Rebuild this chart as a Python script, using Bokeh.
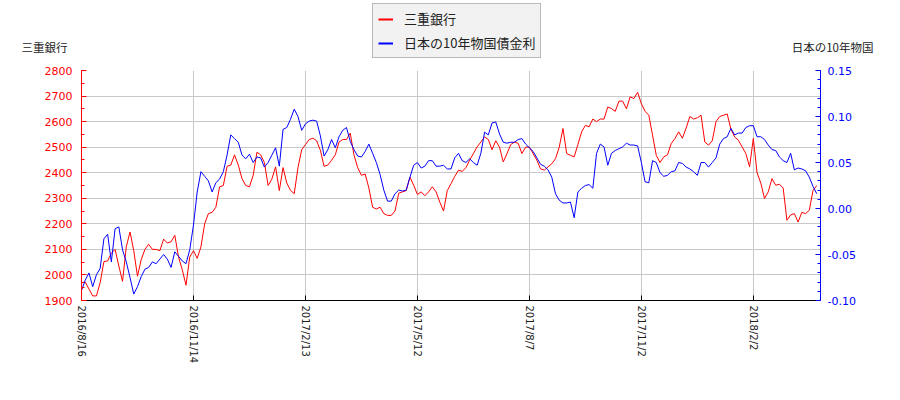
from bokeh.plotting import figure
from bokeh.layouts import column
from bokeh.models import (Range1d, LinearAxis, SingleIntervalTicker, FixedTicker,
                          NumeralTickFormatter, Legend, LegendItem)
from bokeh.core.properties import value
from bokeh.embed import file_html
from bokeh.resources import INLINE

# ---- data ----
tick_labels = ["2016/8/16", "2016/11/14", "2017/2/13", "2017/5/12",
               "2017/8/7", "2017/11/2", "2018/2/2"]
tick_index = [0, 60, 120, 180, 240, 300, 360]

# trading-day index (every second session)
day_index = list(range(0, 396, 2))

bank_price = [
    1970, 1972, 1945, 1918, 1918, 1970, 2052, 2055, 2085, 2100,
    2035, 1975, 2110, 2168, 2095, 1995, 2060, 2100, 2120, 2100,
    2100, 2095, 2140, 2125, 2130, 2155, 2070, 2020, 1960, 2070,
    2095, 2065, 2110, 2200, 2240, 2245, 2265, 2345, 2350, 2425,
    2430, 2470, 2430, 2377, 2350, 2345, 2390, 2480, 2470, 2440,
    2350, 2375, 2423, 2330, 2420, 2360, 2331, 2318, 2420, 2490,
    2510, 2530, 2535, 2525, 2488, 2425, 2430, 2449, 2470, 2520,
    2530, 2530, 2555, 2470, 2420, 2390, 2395, 2340, 2265, 2258,
    2265, 2240, 2233, 2233, 2250, 2320, 2325, 2330, 2383, 2351,
    2315, 2325, 2310, 2325, 2345, 2325, 2285, 2250, 2330, 2357,
    2385, 2410, 2405, 2420, 2449, 2475, 2501, 2520, 2540, 2530,
    2490, 2525, 2500, 2442, 2475, 2510, 2520, 2515, 2475, 2500,
    2500, 2475, 2449, 2415, 2410, 2423, 2435, 2455, 2500, 2573,
    2475, 2468, 2462, 2510, 2560, 2585, 2580, 2610, 2600, 2610,
    2610, 2657, 2651, 2640, 2680, 2680, 2650, 2697, 2690, 2715,
    2670, 2640, 2625, 2547, 2468, 2440, 2462, 2470, 2514, 2534,
    2560, 2535, 2575, 2620, 2610, 2615, 2625, 2520, 2508, 2525,
    2600, 2620, 2625, 2630, 2570, 2540, 2527, 2501, 2475, 2423,
    2534, 2400, 2360, 2299, 2325, 2377, 2351, 2355, 2340, 2214,
    2235, 2240, 2207, 2245, 2240, 2253, 2331, 2350,
]

jgb_yield = [
    -0.089, -0.078, -0.070, -0.085, -0.072, -0.065, -0.033, -0.028, -0.058, -0.022,
    -0.020, -0.045, -0.058, -0.075, -0.093, -0.085, -0.074, -0.066, -0.064, -0.058,
    -0.060, -0.055, -0.050, -0.055, -0.064, -0.047, -0.052, -0.057, -0.060, -0.045,
    -0.018, 0.018, 0.040, 0.035, 0.030, 0.018, 0.028, 0.032, 0.040, 0.058,
    0.080, 0.076, 0.072, 0.058, 0.054, 0.059, 0.050, 0.056, 0.055, 0.045,
    0.050, 0.058, 0.066, 0.046, 0.086, 0.088, 0.097, 0.108, 0.100, 0.085,
    0.092, 0.095, 0.096, 0.095, 0.079, 0.057, 0.064, 0.075, 0.066, 0.078,
    0.085, 0.088, 0.073, 0.064, 0.057, 0.056, 0.062, 0.070, 0.060, 0.050,
    0.037, 0.020, 0.008, 0.008, 0.016, 0.020, 0.019, 0.020, 0.034, 0.047,
    0.050, 0.044, 0.046, 0.052, 0.052, 0.046, 0.046, 0.047, 0.043, 0.043,
    0.055, 0.060, 0.052, 0.050, 0.054, 0.050, 0.047, 0.060, 0.083, 0.080,
    0.093, 0.094, 0.081, 0.072, 0.071, 0.072, 0.072, 0.075, 0.076, 0.070,
    0.066, 0.062, 0.055, 0.048, 0.046, 0.042, 0.034, 0.016, 0.009, 0.006,
    0.006, 0.007, -0.010, 0.018, 0.022, 0.025, 0.026, 0.022, 0.060, 0.070,
    0.067, 0.047, 0.060, 0.063, 0.065, 0.067, 0.071, 0.069, 0.069, 0.068,
    0.050, 0.029, 0.028, 0.052, 0.050, 0.039, 0.035, 0.036, 0.040, 0.041,
    0.050, 0.049, 0.045, 0.043, 0.040, 0.036, 0.050, 0.050, 0.045, 0.050,
    0.055, 0.070, 0.076, 0.078, 0.087, 0.080, 0.082, 0.082, 0.088, 0.090,
    0.090, 0.078, 0.078, 0.075, 0.069, 0.064, 0.063, 0.056, 0.052, 0.050,
    0.060, 0.042, 0.044, 0.043, 0.041, 0.034, 0.024, 0.016,
]

left_title = "三重銀行"
right_title = "日本の10年物国"
series_names = ["三重銀行", "日本の10年物国債金利"]

rate_major = [-0.10, -0.05, 0.00, 0.05, 0.10, 0.15]
rate_minor = [round(-0.10 + 0.01 * k, 2) for k in range(26)]

RED = "#ff0000"
BLUE = "#0000ff"
LATIN = "DejaVu Sans"
CJK = "Noto Sans CJK JP"
TEXT = "#222222"
NAN = float("nan")

# ---- header (legend + axis titles) ----
head = figure(width=900, height=60, output_backend="svg", toolbar_location=None,
              x_range=Range1d(0, 900), y_range=Range1d(0, 60),
              x_axis_location=None, y_axis_location=None,
              min_border=0, min_border_left=0, min_border_right=0,
              min_border_top=0, min_border_bottom=0)
head.outline_line_color = None
head.xgrid.visible = False
head.ygrid.visible = False

# legend proxies (draw nothing themselves)
h1 = head.line(x=[NAN], y=[NAN], line_color=RED, line_width=2)
h2 = head.line(x=[NAN], y=[NAN], line_color=BLUE, line_width=2)

head.text(x=[21], y=[14], text=[left_title], text_font=value(CJK),
          text_font_size="11.5px", text_baseline="middle", text_align="left",
          text_color=TEXT)
head.text(x=[873], y=[14], text=[right_title], text_font=value(CJK),
          text_font_size="11.5px", text_baseline="middle", text_align="right",
          text_color=TEXT)

legend = Legend(items=[LegendItem(label=series_names[0], renderers=[h1]),
                       LegendItem(label=series_names[1], renderers=[h2])],
                location=(372, 2), orientation="vertical",
                padding=5, margin=0, spacing=5,
                glyph_width=15, glyph_height=16, label_height=16,
                label_standoff=11,
                label_text_font=CJK, label_text_font_size="13px",
                label_text_color=TEXT,
                background_fill_color="#f2f2f2", background_fill_alpha=1.0,
                border_line_color="#808080", border_line_width=1)
head.add_layout(legend, "center")

# ---- main chart ----
p = figure(width=900, height=340, output_backend="svg", toolbar_location=None,
           x_range=Range1d(0, 396), y_range=Range1d(1900, 2800),
           min_border_left=81, min_border_right=80,
           min_border_top=10, min_border_bottom=100)
p.outline_line_color = None
p.background_fill_color = "white"
p.border_fill_color = "white"
p.extra_y_ranges = {"rate": Range1d(-0.10, 0.15)}

for fig in (head, p):
    if "frame_align" in fig.properties():
        fig.frame_align = False

ax = p.left[0]
ax.ticker = SingleIntervalTicker(interval=100, num_minor_ticks=2)
ax.axis_line_color = RED
ax.major_tick_line_color = RED
ax.minor_tick_line_color = RED
ax.major_label_text_color = RED
ax.major_tick_in = 5
ax.major_tick_out = 0
ax.minor_tick_in = 3
ax.minor_tick_out = 0
ax.major_label_text_font = LATIN
ax.major_label_text_font_size = "11px"
ax.major_label_standoff = 9

rax = LinearAxis(y_range_name="rate",
                 ticker=FixedTicker(ticks=rate_major, minor_ticks=rate_minor),
                 formatter=NumeralTickFormatter(format="0.00"))
rax.axis_line_color = BLUE
rax.major_tick_line_color = BLUE
rax.minor_tick_line_color = BLUE
rax.major_label_text_color = BLUE
rax.major_tick_in = 5
rax.major_tick_out = 0
rax.minor_tick_in = 3
rax.minor_tick_out = 0
rax.major_label_text_font = LATIN
rax.major_label_text_font_size = "11px"
rax.major_label_standoff = 7
p.add_layout(rax, "right")

bx = p.below[0]
bx.ticker = FixedTicker(ticks=tick_index, minor_ticks=[])
bx.major_label_overrides = {t: lab for t, lab in zip(tick_index, tick_labels)}
bx.major_label_orientation = "vertical"
bx.axis_line_color = "black"
bx.major_tick_line_color = "black"
bx.major_tick_in = 5
bx.major_tick_out = 0
bx.major_label_text_font = LATIN
bx.major_label_text_font_size = "10px"
bx.major_label_text_color = TEXT
bx.major_label_standoff = 5

p.xgrid.grid_line_color = "#c8c8c8"
p.ygrid.grid_line_color = "#c8c8c8"

p.line(day_index, bank_price, line_color=RED, line_width=1)
p.line(day_index, jgb_yield, line_color=BLUE, line_width=1, y_range_name="rate")

layout = column(head, p, spacing=0)
open("out.html", "w").write(file_html(layout, INLINE))
